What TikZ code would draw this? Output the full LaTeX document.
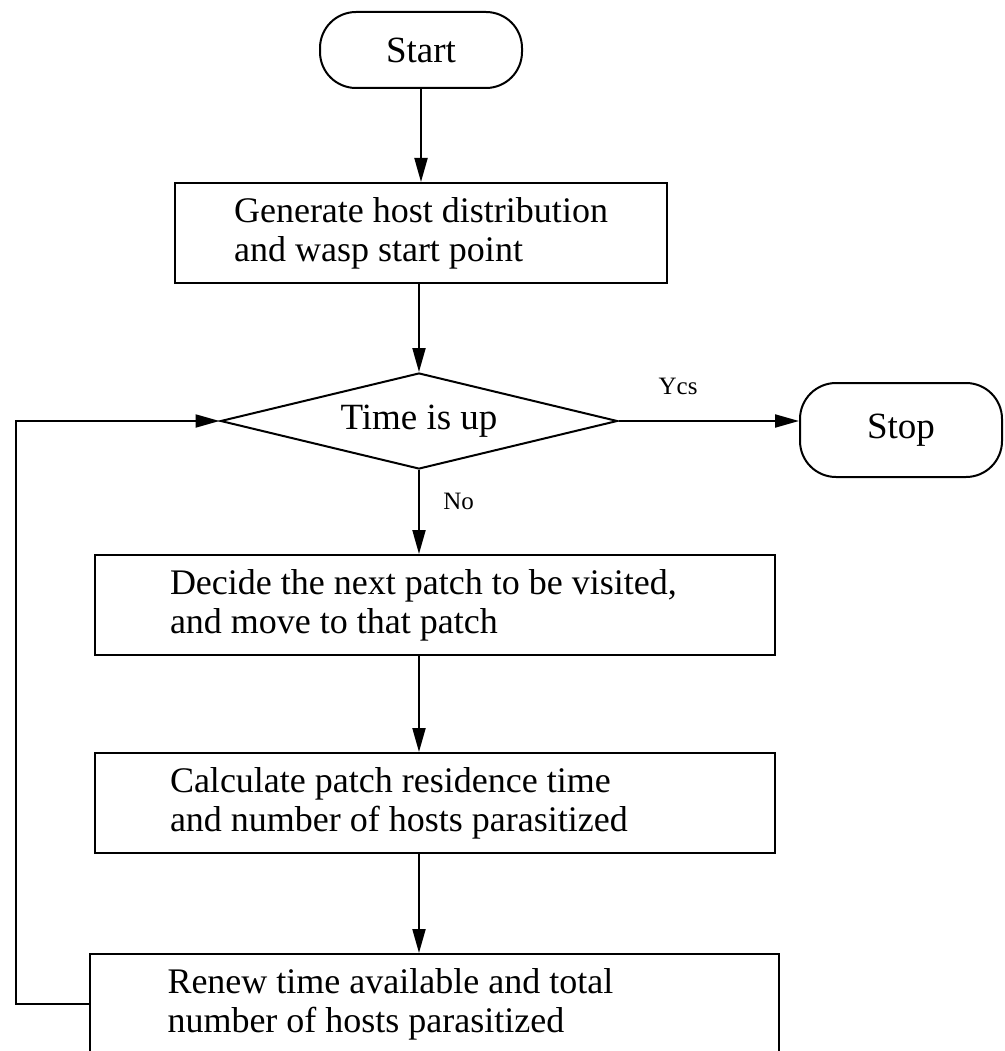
\documentclass[tikz,border=0pt]{standalone}
\usepackage{fontspec}
\setmainfont{Liberation Serif}
\usetikzlibrary{arrows.meta,positioning,shapes.geometric}

\begin{document}
\begin{tikzpicture}[x=1pt,y=-1pt,>={Triangle[length=24pt,width=13pt]},
term/.style={draw,line width=2pt,rounded corners=36pt,minimum width=202pt,minimum height=76pt,font=\fontsize{37}{39}\selectfont},
box/.style={draw,line width=2pt,align=left,minimum height=100pt,font=\fontsize{36}{39}\selectfont},
wide/.style={box,text width=530pt,inner xsep=75pt,execute at begin node={\spaceskip=0pt\xspaceskip=0pt}},
dec/.style={draw,line width=2pt,diamond,aspect=4,inner sep=0pt,minimum width=397pt,minimum height=96pt,font=\fontsize{37}{39}\selectfont},
lbl/.style={font=\fontsize{25}{27}\selectfont},
flow/.style={->,line width=2pt}]
\useasboundingbox (0,0) rectangle (1004,1051);
\node[term] (start) at (421,50) {Start};
\node[box,minimum width=492pt] (gen) at (421,233) {Generate host distribution\\and wasp start point};
\node[dec] (up) at (419,421) {Time is up};
\node[term,minimum height=94pt,anchor=west] (stop) at (799,430) {Stop};
\node[wide] (move) at (435,605) {Decide the next patch to be visited,\\and move to that patch};
\node[wide] (calc) at (435,803) {Calculate patch residence time\\and number of hosts parasitized};
\node[wide,text width=533pt,inner xsep=78pt] (renew) at (434,1004) {Renew time available and total\\number of hosts parasitized};
\coordinate (lp) at (16,0);
\draw[flow] (start) -- (gen);
\draw[flow] (gen.south -| up.north) -- (up.north);
\draw[flow] (up.east) -- node[lbl,pos=.33,above=22pt]{Ycs} (up.east -| stop.west);
\draw[flow] (up.south) -- node[lbl,pos=.38,right=20pt]{No} (up.south |- move.north);
\draw[flow] (move.south -| up.south) -- (calc.north -| up.south);
\draw[flow] (calc.south -| up.south) -- (renew.north -| up.south);
\draw[flow] (renew.west) -- (renew.west -| lp) |- (up.west);
\end{tikzpicture}
\end{document}
